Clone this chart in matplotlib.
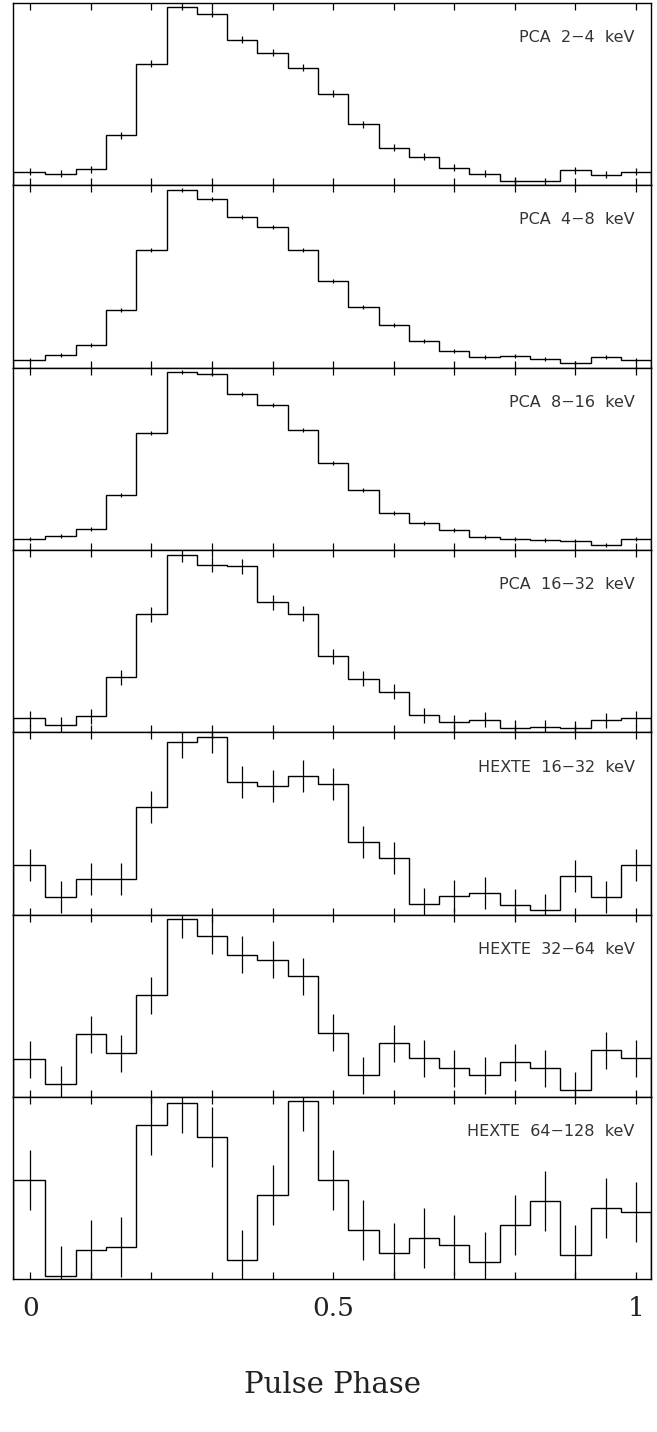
import numpy as np
import matplotlib.pyplot as plt

# pulse phase bin centres (0.05 wide bins)
phase = np.arange(21) * 0.05

# normalised count rates (arbitrary units, panel full scale = 182.5)
pca_2_4 = [13.4, 11.4, 16.0, 50.0, 121.7, 178.4, 171.4, 145.4, 132.4, 117.4, 91.4,
           61.0, 37.7, 28.7, 17.4, 11.7, 4.4, 4.0, 15.0, 10.7, 13.4]
pca_4_8 = [7.7, 13.0, 23.0, 57.4, 118.0, 177.7, 169.0, 150.4, 140.4, 117.4, 87.0,
           61.0, 43.0, 27.0, 17.0, 10.7, 11.4, 9.0, 4.4, 10.4, 8.0]
pca_8_16 = [11.0, 14.3, 21.0, 55.3, 117.0, 178.0, 176.3, 155.6, 144.6, 120.0, 86.6,
            59.6, 37.3, 27.3, 19.6, 13.0, 11.3, 9.6, 9.3, 4.6, 11.0]
pca_16_32 = [14.0, 7.6, 16.0, 55.3, 118.0, 177.6, 167.6, 166.0, 130.3, 118.6, 76.3,
             53.6, 40.6, 17.3, 10.0, 12.6, 4.6, 5.3, 4.3, 12.3, 14.0]
hexte_16_32 = [49.3, 17.6, 36.0, 36.0, 108.3, 172.6, 177.6, 132.6, 128.6, 138.6, 130.6,
               72.6, 56.3, 11.0, 18.6, 21.6, 9.3, 4.3, 39.0, 18.0, 50.0]
hexte_32_64 = [37.7, 12.7, 63.0, 44.0, 102.0, 178.0, 161.7, 142.7, 137.4, 121.0, 64.4,
               21.7, 53.7, 38.7, 28.7, 21.7, 34.7, 28.7, 6.7, 46.7, 38.7]
hexte_64_128 = [99.5, 3.5, 29.5, 32.5, 154.5, 176.5, 142.5, 19.5, 84.5, 178.5, 99.5,
                49.5, 26.5, 41.5, 34.5, 17.5, 54.5, 78.5, 24.5, 71.5, 67.5]

# 1-sigma errors, same units
errors = [3.5, 2.0, 2.0, 7.5, 16.0, 18.5, 30.0]

labels = ["PCA  2\u22124  keV", "PCA  4\u22128  keV", "PCA  8\u221216  keV",
          "PCA  16\u221232  keV", "HEXTE  16\u221232  keV", "HEXTE  32\u221264  keV",
          "HEXTE  64\u2212128  keV"]
profiles = [pca_2_4, pca_4_8, pca_8_16, pca_16_32, hexte_16_32, hexte_32_64, hexte_64_128]

xmin, xmax = -0.028, 1.025
edges = np.append(phase - 0.025, phase[-1] + 0.025)
edges[0] = xmin

fig, axes = plt.subplots(7, 1, figsize=(6.57, 14.32), dpi=100, sharex=True)
fig.subplots_adjust(left=0.0202, right=0.991, top=0.998, bottom=0.1065, hspace=0)

for ax, prof, err, lab in zip(axes, profiles, errors, labels):
    prof = np.array(prof)
    ax.stairs(prof, edges, color='black', lw=1.0)
    ax.vlines(phase, prof - err, prof + err, color='black', lw=0.9)
    ax.set_xlim(xmin, xmax)
    ax.set_ylim(0, 182.5)
    ax.set_yticks([])
    ax.set_xticks([0, 0.5, 1])
    ax.set_xticks(np.arange(0, 1.01, 0.1), minor=True)
    ax.tick_params(axis='x', which='both', direction='in', top=True, bottom=True,
                   length=5, width=0.9, labelbottom=False)
    for s in ax.spines.values():
        s.set_linewidth(1.0)
    ax.text(0.998, 0.785 * 182.5, lab, ha='right', va='baseline', fontsize=11.5,
            family='DejaVu Sans', color='#333333')

ax = axes[-1]
ax.tick_params(axis='x', which='major', labelbottom=True, pad=12, labelsize=19,
               labelcolor='#222222')
ax.set_xticklabels(["0", "0.5", "1"], family='DejaVu Serif')
ax.set_xlabel("Pulse Phase", family='DejaVu Serif', fontsize=21, labelpad=36,
              color='#222222')

fig.savefig("out.png", dpi=100)
